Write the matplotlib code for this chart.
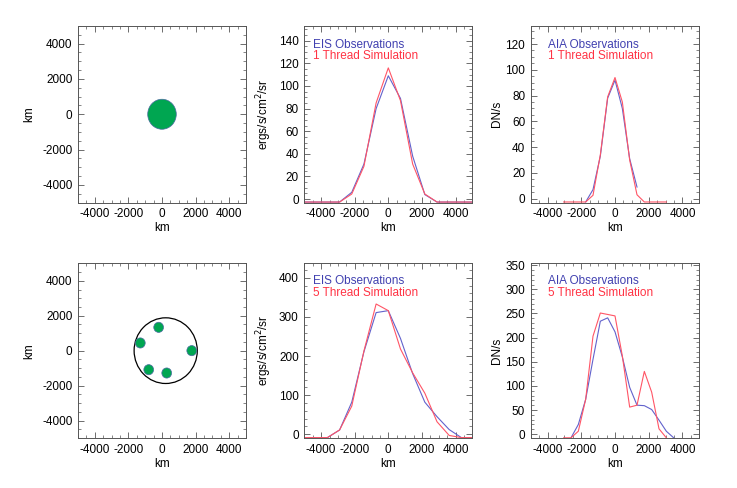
import numpy as np
import matplotlib
matplotlib.use('Agg')
import matplotlib.pyplot as plt
from matplotlib.patches import Circle
from matplotlib.ticker import MultipleLocator, AutoMinorLocator

plt.rcParams['font.family'] = ['Liberation Sans', 'DejaVu Sans']
plt.rcParams['font.size'] = 8.5
plt.rcParams['axes.unicode_minus'] = False

# %% data
# thread cross sections (km)
thread1_x = [0]
thread1_y = [0]
thread1_r = 850

bundle_x = 220
bundle_y = 0
bundle_r = 1880
thread5_x = [-200, -1290, 1770, -790, 280]
thread5_y = [1335, 440, 0, -1090, -1280]
thread5_r = 290

# EIS pixels (725 km)
eis_x = [-5075, -4350, -3625, -2900, -2175, -1450, -725, 0, 725, 1450, 2175, 2900, 3625, 4350, 5075]
eis1_obs = [-2.6, -2.6, -2.6, -2.6, 6, 31, 80, 109, 89, 38, 4, -2.6, -2.6, -2.6, -2.6]
eis1_sim = [-2.6, -2.6, -2.6, -2.6, 4.5, 29, 85, 116, 87, 31, 4.5, -2.6, -2.6, -2.6, -2.6]
eis5_obs = [-8.5, -8.5, -8.5, 11, 82, 211, 311, 316, 245, 155, 82, 45, 12, -8.5, -8.5]
eis5_sim = [-8.5, -8.5, -8.5, 11, 72, 213, 333, 316, 218, 157, 105, 32, -3, -8.5, -8.5]

# AIA pixels (435 km)
aia1_x_obs = [-1740, -1305, -870, -435, 0, 435, 870, 1305]
aia1_obs = [-2.6, 7, 33, 78, 92, 70, 31, 9]
aia1_x_sim = [-3045, -2610, -2175, -1740, -1305, -870, -435, 0, 435, 870, 1305, 1740, 2175, 2610, 3045]
aia1_sim = [-2.6, -2.6, -2.6, -2.6, 2.6, 34, 79, 94, 75, 30, 3, -2.6, -2.6, -2.6, -2.6]

aia5_x_obs = [-2610, -2175, -1740, -1305, -870, -435, 0, 435, 870, 1305, 1740, 2175, 2610, 3045, 3480]
aia5_obs = [-7.6, 20, 72, 155, 234, 241, 212, 160, 97, 60, 59, 51, 29, 6, -7.6]
aia5_x_sim = [-3045, -2610, -2175, -1740, -1305, -870, -435, 0, 435, 870, 1305, 1740, 2175, 2610, 3045]
aia5_sim = [-7.6, -7.6, 6, 72, 203, 251, 248, 245, 162, 56, 60, 130, 87, 11, -7.6]

blue = '#6262cc'
red = '#ff5566'
blue_txt = '#4040b0'
red_txt = '#ff3344'
green = '#00a651'

W, H = 737, 488
fig = plt.figure(figsize=(W / 100, H / 100), dpi=100)


def add_ax(left, right, top, bottom):
    return fig.add_axes([left / W, 1 - bottom / H, (right - left) / W, (bottom - top) / H])


def style(ax, ystep, ylim, ylab, ylab_x):
    ax.set_xlim(-5000, 5000)
    ax.set_ylim(*ylim)
    ax.xaxis.set_major_locator(MultipleLocator(2000))
    ax.xaxis.set_minor_locator(AutoMinorLocator(4))
    ax.yaxis.set_major_locator(MultipleLocator(ystep))
    ax.yaxis.set_minor_locator(AutoMinorLocator(4 if ystep in (20, 2000) else 5))
    ax.tick_params(which='both', direction='in', top=True, right=True, color='#555555')
    ax.tick_params(which='major', length=4, width=0.6, pad=4)
    ax.tick_params(which='minor', length=2, width=0.5)
    for s in ax.spines.values():
        s.set_color('#555555')
        s.set_linewidth(0.7)
    ax.set_xlabel('km')
    ax.set_ylabel(ylab)
    ax.xaxis.set_label_coords(0.5, -0.112)
    ax.yaxis.set_label_coords(ylab_x, 0.5)


rows = [(26, 202.5), (263.3, 438)]
cols = [(78, 246), (304.3, 472.3), (530.7, 699.3)]

# %% top row
ax1 = add_ax(cols[0][0], cols[0][1], *rows[0])
style(ax1, 2000, (-5000, 5000), 'km', -0.256)
for x, y in zip(thread1_x, thread1_y):
    ax1.add_patch(Circle((x, y), thread1_r, facecolor=green, edgecolor='#4a6aa0', lw=0.5))

ax2 = add_ax(cols[1][0], cols[1][1], *rows[0])
style(ax2, 20, (-3, 153), 'ergs/s/cm$^2$/sr', -0.18)
ax2.plot(eis_x, eis1_obs, color=blue, lw=0.8)
ax2.plot(eis_x, eis1_sim, color=red, lw=0.8)
ax2.text(0.054, 0.893, 'EIS Observations', color=blue_txt, transform=ax2.transAxes, va='center')
ax2.text(0.054, 0.830, '1 Thread Simulation', color=red_txt, transform=ax2.transAxes, va='center')

ax3 = add_ax(cols[2][0], cols[2][1], *rows[0])
style(ax3, 20, (-3, 134), 'DN/s', -0.165)
ax3.plot(aia1_x_obs, aia1_obs, color=blue, lw=0.8)
ax3.plot(aia1_x_sim, aia1_sim, color=red, lw=0.8)
ax3.text(0.104, 0.893, 'AIA Observations', color=blue_txt, transform=ax3.transAxes, va='center')
ax3.text(0.104, 0.830, '1 Thread Simulation', color=red_txt, transform=ax3.transAxes, va='center')

# %% bottom row
ax4 = add_ax(cols[0][0], cols[0][1], *rows[1])
style(ax4, 2000, (-5000, 5000), 'km', -0.256)
ax4.add_patch(Circle((bundle_x, bundle_y), bundle_r, facecolor='none', edgecolor='black', lw=0.9))
for x, y in zip(thread5_x, thread5_y):
    ax4.add_patch(Circle((x, y), thread5_r, facecolor=green, edgecolor='#4a6aa0', lw=0.5))

ax5 = add_ax(cols[1][0], cols[1][1], *rows[1])
style(ax5, 100, (-9.5, 437), 'ergs/s/cm$^2$/sr', -0.18)
ax5.plot(eis_x, eis5_obs, color=blue, lw=0.8)
ax5.plot(eis_x, eis5_sim, color=red, lw=0.8)
ax5.text(0.054, 0.900, 'EIS Observations', color=blue_txt, transform=ax5.transAxes, va='center')
ax5.text(0.054, 0.832, '5 Thread Simulation', color=red_txt, transform=ax5.transAxes, va='center')

ax6 = add_ax(cols[2][0], cols[2][1], *rows[1])
style(ax6, 50, (-8, 354), 'DN/s', -0.165)
ax6.plot(aia5_x_obs, aia5_obs, color=blue, lw=0.8)
ax6.plot(aia5_x_sim, aia5_sim, color=red, lw=0.8)
ax6.text(0.104, 0.900, 'AIA Observations', color=blue_txt, transform=ax6.transAxes, va='center')
ax6.text(0.104, 0.832, '5 Thread Simulation', color=red_txt, transform=ax6.transAxes, va='center')

fig.savefig('out.png', dpi=100)
